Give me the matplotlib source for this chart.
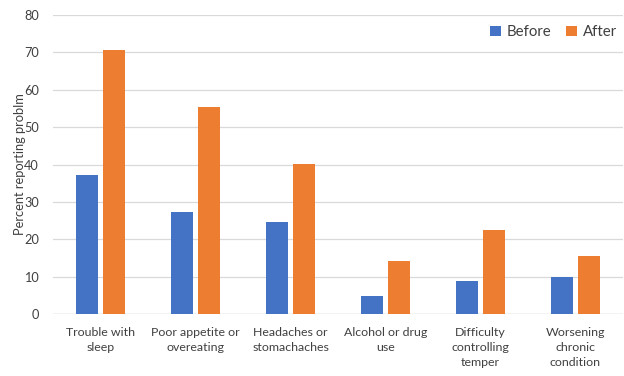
import matplotlib
matplotlib.use("Agg")
import matplotlib.pyplot as plt
import numpy as np

plt.rcParams['font.family'] = ['Lato', 'DejaVu Sans']

categories = ["Trouble with\nsleep", "Poor appetite or\novereating", "Headaches or\nstomachaches",
              "Alcohol or drug\nuse", "Difficulty\ncontrolling\ntemper", "Worsening\nchronic\ncondition"]
before = [37.1, 27.3, 24.6, 4.8, 8.9, 9.9]
after = [70.6, 55.4, 40.1, 14.2, 22.6, 15.6]
yticks = [0, 10, 20, 30, 40, 50, 60, 70, 80]

blue = "#4472C4"
orange = "#ED7D31"
text_color = "#404040"

fig = plt.figure(figsize=(6.24, 3.76), dpi=100)
ax = fig.add_axes([53/624, 1 - 314/376, 570/624, (314 - 15)/376])

x = np.arange(len(categories))
w = 0.23
off = 0.14
ax.bar(x - off, before, width=w, color=blue, label="Before", zorder=3)
ax.bar(x + off, after, width=w, color=orange, label="After", zorder=3)

ax.set_xlim(-0.5, len(categories) - 0.5)
ax.set_ylim(0, 80)
ax.set_yticks(yticks)
ax.grid(axis='y', color="#d9d9d9", linewidth=0.9, zorder=0)
for s in ax.spines.values():
    s.set_visible(False)
ax.axhline(0, color="#d9d9d9", linewidth=1.0, zorder=1)

ax.set_xticks(x)
ax.set_xticklabels(categories, fontsize=8.9, color=text_color, linespacing=1.5)
ax.tick_params(axis='x', length=0, pad=9)
ax.tick_params(axis='y', length=0, pad=10, labelsize=9.2, labelcolor=text_color)
ax.set_ylabel("Percent reporting problm", fontsize=9.3, color=text_color, labelpad=-1)

ax.legend(loc="center right", bbox_to_anchor=(1.0, 0.943), borderaxespad=0, ncol=2,
          frameon=False, fontsize=10.8, handlelength=0.7, handleheight=0.7,
          handletextpad=0.4, columnspacing=1.0, labelcolor=text_color)

fig.savefig("out.png", dpi=100)
